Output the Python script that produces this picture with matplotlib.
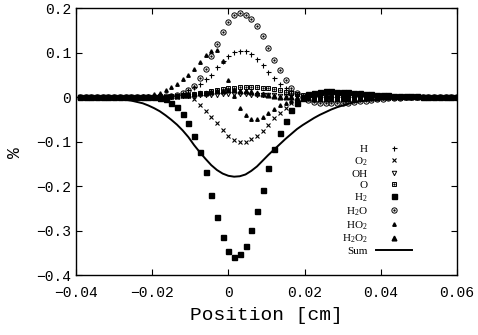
import numpy as np
import matplotlib
matplotlib.use('Agg')
import matplotlib.pyplot as plt
from matplotlib.legend_handler import HandlerTuple
from matplotlib.ticker import FuncFormatter

plt.rcParams['font.family'] = 'Liberation Mono'
plt.rcParams['mathtext.fontset'] = 'custom'
plt.rcParams['mathtext.rm'] = 'Liberation Serif'

# sampling grid of the profiles (step 0.0015 cm)
position = np.round(np.arange(-26, 41) * 0.0015, 4)

# species deviations in %, one value per grid point (k = -26 .. 40)
H = [0.0] * 14 + [
    0.001, 0.002, 0.003, 0.005, 0.010, 0.016, 0.023, 0.030, 0.041, 0.050, 0.068, 0.082, 0.093,
    0.102, 0.104, 0.104, 0.097, 0.086, 0.073, 0.057, 0.043, 0.030, 0.021, 0.014, 0.007, 0.003] + [
    0.001, 0.001, 0.001, 0.0, 0.0, 0.0, 0.0, 0.0, 0.0, 0.0, 0.0, 0.0, 0.0, 0.0,
    0.0, 0.0, 0.0, 0.0, 0.0, 0.0, 0.0, 0.0, 0.0, 0.0, 0.0, 0.0, 0.0]
O2 = [0.0] * 14 + [
    0.0, 0.0, 0.001, 0.001, 0.002, 0.002, -0.004, -0.017, -0.031, -0.044, -0.058, -0.073, -0.087,
    -0.096, -0.100, -0.100, -0.094, -0.087, -0.076, -0.062, -0.047, -0.035, -0.024, -0.013, -0.006, -0.002] + [
    -0.001, -0.001, 0.0, 0.0, 0.0, 0.0, 0.0, 0.0, 0.0, 0.0, 0.0, 0.0, 0.0, 0.0,
    0.0, 0.0, 0.0, 0.0, 0.0, 0.0, 0.0, 0.0, 0.0, 0.0, 0.0, 0.0, 0.0]
OH = [0.0] * 14 + [
    0.001, 0.001, 0.001, 0.002, 0.002, 0.003, 0.003, 0.004, 0.004, 0.005, 0.005, 0.006, 0.006,
    0.006, 0.006, 0.006, 0.005, 0.005, 0.005, 0.004, 0.004, 0.003, 0.002, 0.002, 0.001, 0.0] + [
    -0.001, -0.001, -0.002, -0.002, -0.002, -0.002, -0.002, -0.002, -0.001, -0.001, -0.001, -0.001, 0.0, 0.0,
    0.0, 0.0, 0.0, 0.0, 0.0, 0.0, 0.0, 0.0, 0.0, 0.0, 0.0, 0.0, 0.0]
O = [0.0] * 14 + [
    0.001, 0.001, 0.002, 0.003, 0.004, 0.005, 0.007, 0.008, 0.010, 0.013, 0.016, 0.018, 0.020,
    0.021, 0.022, 0.022, 0.022, 0.022, 0.021, 0.020, 0.018, 0.015, 0.012, 0.009, 0.006, 0.004] + [
    0.002, 0.001, 0.0, -0.001, -0.001, -0.002, -0.002, -0.002, -0.002, -0.001, -0.001, -0.001, 0.0, 0.0,
    0.0, 0.0, 0.0, 0.0, 0.0, 0.0, 0.0, 0.0, 0.0, 0.0, 0.0, 0.0, 0.0]
H2 = [0.0, 0.0, 0.0, 0.0, 0.0, 0.0, 0.0, 0.0, 0.0, 0.0, 0.0, -0.001, -0.001, -0.001] + [
    -0.002, -0.004, -0.013, -0.022, -0.037, -0.058, -0.087, -0.123, -0.168, -0.220, -0.269, -0.314, -0.345,
    -0.359, -0.352, -0.334, -0.298, -0.256, -0.208, -0.159, -0.116, -0.080, -0.053, -0.029, -0.013, -0.002] + [
    0.006, 0.010, 0.012, 0.013, 0.013, 0.012, 0.012, 0.011, 0.009, 0.008, 0.007, 0.006, 0.005, 0.004,
    0.004, 0.003, 0.003, 0.002, 0.002, 0.002, 0.001, 0.001, 0.001, 0.001, 0.0, 0.0, 0.0]
H2O = [0.0] * 12 + [0.001, 0.001] + [
    0.002, 0.002, 0.003, 0.005, 0.010, 0.016, 0.025, 0.043, 0.064, 0.093, 0.120, 0.147, 0.169,
    0.185, 0.189, 0.185, 0.176, 0.160, 0.138, 0.111, 0.084, 0.060, 0.039, 0.021, 0.010, 0.001] + [
    -0.007, -0.012, -0.013, -0.013, -0.013, -0.013, -0.013, -0.013, -0.012, -0.010, -0.008, -0.006, -0.005, -0.004,
    -0.003, -0.002, -0.002, -0.001, -0.001, -0.001, 0.0, 0.0, 0.0, 0.0, 0.0, 0.0, 0.0]
HO2 = [0.0] * 10 + [0.001, 0.002, 0.003, 0.006] + [
    0.010, 0.016, 0.022, 0.030, 0.040, 0.050, 0.064, 0.079, 0.094, 0.104, 0.106, 0.080, 0.039,
    0.002, -0.024, -0.041, -0.049, -0.050, -0.045, -0.036, -0.027, -0.019, -0.013, -0.008, -0.004, -0.002] + [
    -0.001, 0.0, 0.0, 0.0, 0.0, 0.0, 0.0, 0.0, 0.0, 0.0, 0.0, 0.0, 0.0, 0.0,
    0.0, 0.0, 0.0, 0.0, 0.0, 0.0, 0.0, 0.0, 0.0, 0.0, 0.0, 0.0, 0.0]
H2O2 = [0.0] * 14 + [
    0.001, 0.001, 0.002, 0.003, 0.004, 0.005, 0.007, 0.009, 0.010, 0.012, 0.013, 0.014, 0.015,
    0.015, 0.014, 0.013, 0.011, 0.009, 0.007, 0.005, 0.003, 0.001, 0.0, -0.001, -0.002, -0.002] + [
    -0.003, -0.004, -0.005, -0.005, -0.005, -0.005, -0.005, -0.004, -0.004, -0.003, -0.003, -0.002, -0.002, -0.001,
    -0.001, -0.001, 0.0, 0.0, 0.0, 0.0, 0.0, 0.0, 0.0, 0.0, 0.0, 0.0, 0.0]
Sum = [
    0.0, 0.0, -0.001, -0.001, -0.001, -0.002, -0.003, -0.004, -0.006, -0.008, -0.011, -0.014, -0.019, -0.025,
    -0.032, -0.041, -0.051, -0.062, -0.075, -0.090, -0.108, -0.124, -0.139, -0.153, -0.164, -0.172, -0.177,
    -0.179, -0.178, -0.174, -0.166, -0.156, -0.143, -0.130, -0.118, -0.106, -0.094, -0.083, -0.072, -0.063,
    -0.055, -0.047, -0.040, -0.034, -0.028, -0.023, -0.019, -0.015, -0.012, -0.010, -0.008, -0.006, -0.005,
    -0.004, -0.003, -0.003, -0.002, -0.002, -0.001, -0.001, -0.001, 0.0, 0.0, 0.0, 0.0, 0.0, 0.0]

labels = ['H', r'O$_\mathregular{2}$', 'OH', 'O', r'H$_\mathregular{2}$',
          r'H$_\mathregular{2}$O', r'HO$_\mathregular{2}$',
          r'H$_\mathregular{2}$O$_\mathregular{2}$', 'Sum']

fig = plt.figure(figsize=(4.78, 3.35), dpi=100)
ax = fig.add_axes([0.159, 0.179, 0.797, 0.797])

kw = dict(ls='none', color='k', mec='k')
h_H, = ax.plot(position, H, marker='+', ms=3.6, mew=0.8, **kw)
h_O2, = ax.plot(position, O2, marker='x', ms=3.2, mew=0.8, **kw)
h_OH, = ax.plot(position, OH, marker='v', ms=3.2, mfc='none', mew=0.7, **kw)
h_O, = ax.plot(position, O, marker='s', ms=3.4, mfc='none', mew=0.7, **kw)
h_Od, = ax.plot(position, O, marker='.', ms=1.3, **kw)
h_H2, = ax.plot(position, H2, marker='s', ms=3.6, **kw)
h_H2O, = ax.plot(position, H2O, marker='o', ms=3.8, mfc='none', mew=0.7, **kw)
h_H2Od, = ax.plot(position, H2O, marker='.', ms=1.3, **kw)
h_HO2, = ax.plot(position, HO2, marker='^', ms=2.5, **kw)
h_H2O2, = ax.plot(position, H2O2, marker='^', ms=3.4, **kw)
h_Sum, = ax.plot(position, Sum, '-', color='k', lw=1.4)

ax.set_xlim(-0.04, 0.06)
ax.set_ylim(-0.4, 0.2)
ax.set_xticks([-0.04, -0.02, 0, 0.02, 0.04, 0.06])
ax.set_yticks([-0.4, -0.3, -0.2, -0.1, 0, 0.1, 0.2])

def fmt_x(v, pos):
    return '0' if abs(v) < 1e-9 else ('%.2f' % v).replace('-', '\u2212')

def fmt_y(v, pos):
    return '0' if abs(v) < 1e-9 else ('%.1f' % v).replace('-', '\u2212')

ax.xaxis.set_major_formatter(FuncFormatter(fmt_x))
ax.yaxis.set_major_formatter(FuncFormatter(fmt_y))
ax.tick_params(direction='in', top=True, right=True, length=4, width=0.8, labelsize=10.5)
ax.tick_params(axis='x', pad=8)
for s in ax.spines.values():
    s.set_linewidth(1.0)

ax.set_xlabel('Position [cm]', fontsize=14, labelpad=5)
ax.set_ylabel('%', fontsize=13)
ax.yaxis.set_label_coords(-0.137, 0.46)

handles = [h_H, h_O2, h_OH, (h_O, h_Od), h_H2, (h_H2O, h_H2Od), h_HO2, h_H2O2, h_Sum]
ax.legend(handles, labels, loc='lower right', bbox_to_anchor=(0.882, 0.07),
          frameon=False, markerfirst=False, numpoints=1,
          prop={'family': 'Liberation Serif', 'size': 8},
          handlelength=3.2, handletextpad=0.8, labelspacing=0.1,
          borderpad=0, borderaxespad=0,
          handler_map={tuple: HandlerTuple(ndivide=1, pad=0)})

fig.savefig('out.png', dpi=100)
